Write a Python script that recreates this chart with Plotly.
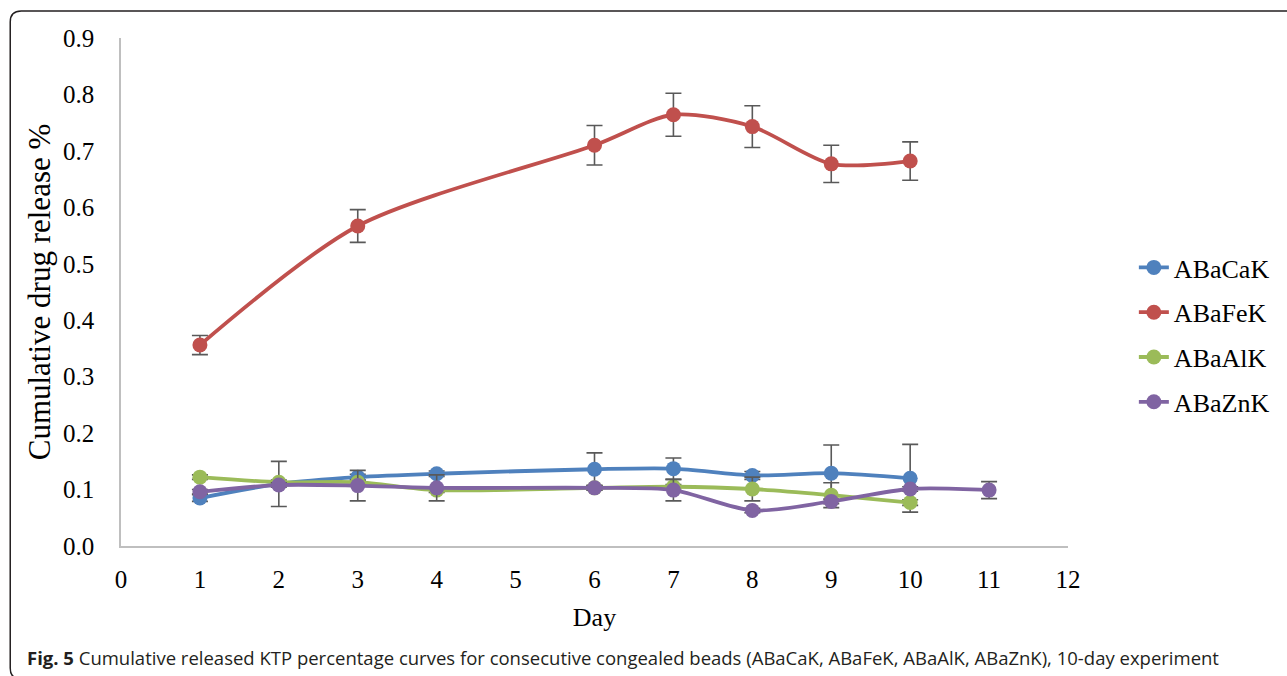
import plotly.graph_objects as go

# ---------------- data ----------------
series_names = ["ABaCaK", "ABaFeK", "ABaAlK", "ABaZnK"]
series_colors = ["#4F81BD", "#C0504D", "#9BBB59", "#8064A2"]

days_cak = [1, 2, 3, 4, 6, 7, 8, 9, 10]
vals_cak = [0.085, 0.110, 0.122, 0.128, 0.136, 0.137, 0.125, 0.129, 0.120]
err_cak = [0.006, 0.040, 0.005, 0.005, 0.029, 0.019, 0.007, 0.050, 0.060]

days_fek = [1, 3, 6, 7, 8, 9, 10]
vals_fek = [0.356, 0.567, 0.710, 0.764, 0.743, 0.677, 0.682]
err_fek = [0.017, 0.029, 0.035, 0.038, 0.037, 0.033, 0.034]

days_alk = [1, 2, 3, 4, 6, 7, 8, 9, 10]
vals_alk = [0.122, 0.113, 0.113, 0.099, 0.103, 0.105, 0.101, 0.090, 0.077]
err_alk = [0.004, 0.004, 0.004, 0.004, 0.004, 0.004, 0.021, 0.022, 0.005]

days_znk = [1, 2, 3, 4, 6, 7, 8, 9, 10, 11]
vals_znk = [0.096, 0.108, 0.107, 0.103, 0.103, 0.099, 0.063, 0.079, 0.101, 0.099]
err_znk = [0.004, 0.004, 0.027, 0.023, 0.004, 0.019, 0.004, 0.004, 0.004, 0.015]

x_ticks = list(range(0, 13))
y_ticks = [round(0.1 * i, 1) for i in range(0, 10)]

caption_bold = "Fig. 5"
caption_text = ("Cumulative released KTP percentage curves for consecutive congealed beads "
                "(ABaCaK, ABaFeK, ABaAlK, ABaZnK), 10-day experiment")

# ---------------- layout geometry ----------------
W, H = 1287, 676
L, R, T, B = 121, 1070, 38, 546


def px(x):
    return (x - L) / (R - L)


def py(y):
    return (B - y) / (B - T)


fig = go.Figure()

all_series = [
    (days_cak, vals_cak, err_cak),
    (days_fek, vals_fek, err_fek),
    (days_alk, vals_alk, err_alk),
    (days_znk, vals_znk, err_znk),
]

for i, (d, v, e) in enumerate(all_series):
    fig.add_trace(go.Scatter(
        x=d, y=v, name=series_names[i], mode="lines+markers",
        line=dict(color=series_colors[i], width=3.8, shape="spline", smoothing=0.8),
        marker=dict(color=series_colors[i], size=15),
        error_y=dict(type="data", array=e, visible=True, color="#595959",
                     thickness=1.6, width=8),
        legendgroup=series_names[i],
    ))

serif = "Liberation Serif, Times New Roman, serif"

fig.update_layout(
    width=W, height=H,
    margin=dict(l=L, r=W - R, t=T, b=H - B),
    paper_bgcolor="white", plot_bgcolor="white",
    font=dict(family=serif, color="#000000"),
    showlegend=True,
    legend=dict(
        x=px(1136), xanchor="left", y=py(335), yanchor="middle",
        font=dict(family=serif, size=26, color="#000000"),
        tracegroupgap=8, itemwidth=30, bgcolor="rgba(0,0,0,0)",
    ),
    xaxis=dict(
        range=[0, 12], tickvals=x_ticks, ticktext=[str(t) for t in x_ticks],
        showgrid=False, zeroline=False, showline=True, linecolor="#BFBFBF",
        linewidth=1.5, ticks="", tickfont=dict(family=serif, size=25),
        ticklabelstandoff=10,
        title=dict(text="Day", font=dict(family=serif, size=26), standoff=16),
    ),
    yaxis=dict(
        range=[0, 0.9], tickvals=y_ticks, ticktext=[f"{t:.1f}" for t in y_ticks],
        showgrid=False, zeroline=False, showline=True, linecolor="#BFBFBF",
        linewidth=1.5, ticks="", tickfont=dict(family=serif, size=25),
        ticklabelstandoff=20,
        title=dict(text="Cumulative drug release %", font=dict(family=serif, size=31),
                   standoff=3),
    ),
)

# rounded frame around the figure
fl, ft, fr, fb, r = 10, 11, 1300, 679, 11
path = (f"M {px(fl)},{py(fb - r)} L {px(fl)},{py(ft + r)} "
        f"Q {px(fl)},{py(ft)} {px(fl + r)},{py(ft)} "
        f"L {px(fr - r)},{py(ft)} Q {px(fr)},{py(ft)} {px(fr)},{py(ft + r)} "
        f"L {px(fr)},{py(fb - r)} Q {px(fr)},{py(fb)} {px(fr - r)},{py(fb)} "
        f"L {px(fl + r)},{py(fb)} Q {px(fl)},{py(fb)} {px(fl)},{py(fb - r)} Z")
fig.add_shape(type="path", path=path, xref="paper", yref="paper",
              line=dict(color="#231F20", width=1.5), layer="above")

fig.add_annotation(
    x=px(25), y=py(657), xref="paper", yref="paper", xanchor="left", yanchor="middle",
    showarrow=False, align="left",
    text=f"<b>{caption_bold}</b> {caption_text}",
    font=dict(family="Open Sans, Noto Sans, sans-serif", size=18.5, color="#231F20"),
)

fig.write_html("out.html")
